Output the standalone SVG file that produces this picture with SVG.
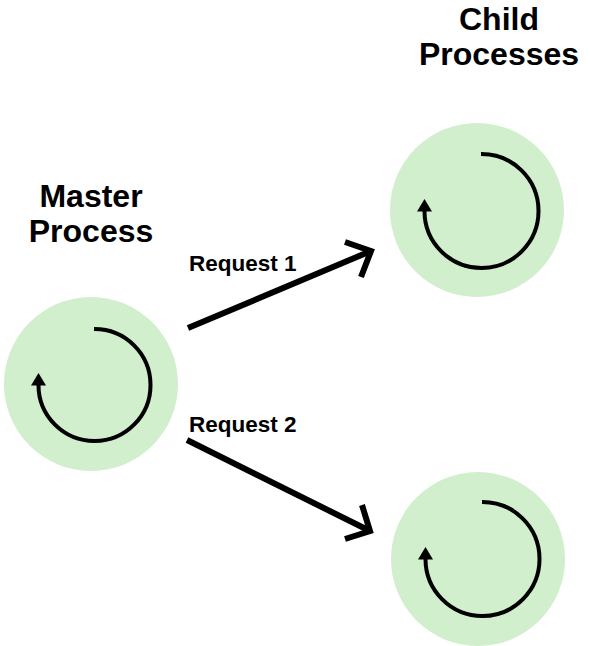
<svg xmlns="http://www.w3.org/2000/svg" width="590" height="646" viewBox="0 0 590 646">
<style>
.proc{fill:#d1eecd}
.loop{fill:none;stroke:#000;stroke-width:4}
.head{fill:#000}
.conn{fill:none;stroke:#000;stroke-width:6;stroke-linejoin:miter;stroke-linecap:butt}
.title{font-family:"Liberation Sans",Arial,sans-serif;font-weight:bold;font-size:32px;text-anchor:middle;fill:#000}
.lbl{font-family:"Liberation Sans",Arial,sans-serif;font-weight:bold;font-size:22.5px;fill:#000}
</style>
<rect width="590" height="646" fill="#fff"/>
<g id="master">
<circle class="proc" cx="91" cy="384" r="87"/>
<path class="loop" d="M94 329 A56 56 0 1 1 38.5 385"/>
<path class="head" d="M38.5 373 L46 385.5 L31 385.5 Z"/>
<text class="title" x="91" y="207">Master</text>
<text class="title" x="91" y="242">Process</text>
</g>
<g id="child1">
<circle class="proc" cx="477" cy="210" r="87"/>
<path class="loop" d="M481 154 A57 57 0 1 1 424.5 211"/>
<path class="head" d="M424.5 199 L432 211.5 L417 211.5 Z"/>
</g>
<g id="child2">
<circle class="proc" cx="478" cy="559" r="87"/>
<path class="loop" d="M482 502 A57 57 0 1 1 425.5 559"/>
<path class="head" d="M425.5 547 L433 559.5 L418 559.5 Z"/>
</g>
<g id="child-title">
<text class="title" x="499" y="30">Child</text>
<text class="title" x="499" y="65">Processes</text>
</g>
<g id="connectors">
<line class="conn" x1="188" y1="328" x2="371" y2="251"/>
<polyline class="conn" points="345,242 371,251 361,277"/>
<text class="lbl" x="189" y="271">Request 1</text>
<line class="conn" x1="187" y1="440" x2="370" y2="531"/>
<polyline class="conn" points="362,505 370,531 345,539"/>
<text class="lbl" x="189" y="432">Request 2</text>
</g>
</svg>
